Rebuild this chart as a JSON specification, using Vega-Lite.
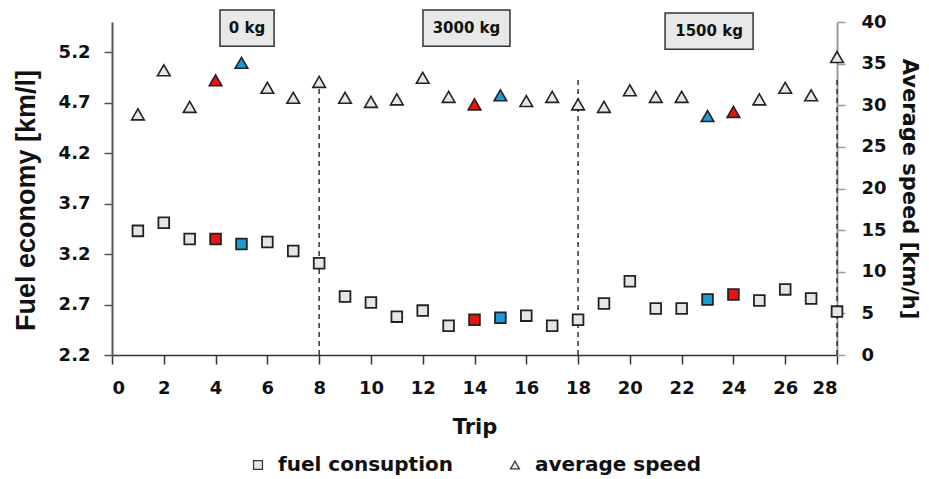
{
  "$schema": "https://vega.github.io/schema/vega-lite/v6.json",
  "width": 725,
  "height": 333,
  "autosize": {"type": "none"},
  "padding": {"left": 112, "top": 22, "right": 92, "bottom": 124},
  "background": "white",
  "config": {
    "view": {"stroke": null},
    "axis": {
      "grid": false,
      "labelFont": "DejaVu Sans",
      "labelFontWeight": "bold",
      "labelFontSize": 18,
      "labelColor": "#111",
      "titleColor": "#111"
    },
    "legend": {
      "orient": "none",
      "legendX": 136,
      "legendY": 433,
      "direction": "horizontal",
      "labelFont": "DejaVu Sans",
      "labelFontSize": 20,
      "labelFontWeight": "bold",
      "labelColor": "#111",
      "labelLimit": 400,
      "symbolSize": 80,
      "symbolStrokeWidth": 1.2,
      "columnPadding": 51,
      "labelOffset": 10
    }
  },
  "datasets": {
    "trips": [
      {"trip": 1, "fuel": 3.43, "speed": 28.9, "hl": "none"},
      {"trip": 2, "fuel": 3.51, "speed": 34.2, "hl": "none"},
      {"trip": 3, "fuel": 3.35, "speed": 29.8, "hl": "none"},
      {"trip": 4, "fuel": 3.35, "speed": 33.0, "hl": "red"},
      {"trip": 5, "fuel": 3.30, "speed": 35.1, "hl": "blue"},
      {"trip": 6, "fuel": 3.32, "speed": 32.1, "hl": "none"},
      {"trip": 7, "fuel": 3.23, "speed": 30.9, "hl": "none"},
      {"trip": 8, "fuel": 3.11, "speed": 32.8, "hl": "none"},
      {"trip": 9, "fuel": 2.78, "speed": 30.9, "hl": "none"},
      {"trip": 10, "fuel": 2.72, "speed": 30.4, "hl": "none"},
      {"trip": 11, "fuel": 2.58, "speed": 30.7, "hl": "none"},
      {"trip": 12, "fuel": 2.64, "speed": 33.3, "hl": "none"},
      {"trip": 13, "fuel": 2.49, "speed": 31.0, "hl": "none"},
      {"trip": 14, "fuel": 2.55, "speed": 30.1, "hl": "red"},
      {"trip": 15, "fuel": 2.57, "speed": 31.2, "hl": "blue"},
      {"trip": 16, "fuel": 2.59, "speed": 30.5, "hl": "none"},
      {"trip": 17, "fuel": 2.49, "speed": 31.0, "hl": "none"},
      {"trip": 18, "fuel": 2.55, "speed": 30.1, "hl": "none"},
      {"trip": 19, "fuel": 2.71, "speed": 29.8, "hl": "none"},
      {"trip": 20, "fuel": 2.93, "speed": 31.8, "hl": "none"},
      {"trip": 21, "fuel": 2.66, "speed": 31.0, "hl": "none"},
      {"trip": 22, "fuel": 2.66, "speed": 31.0, "hl": "none"},
      {"trip": 23, "fuel": 2.75, "speed": 28.7, "hl": "blue"},
      {"trip": 24, "fuel": 2.80, "speed": 29.2, "hl": "red"},
      {"trip": 25, "fuel": 2.74, "speed": 30.7, "hl": "none"},
      {"trip": 26, "fuel": 2.85, "speed": 32.1, "hl": "none"},
      {"trip": 27, "fuel": 2.76, "speed": 31.2, "hl": "none"},
      {"trip": 28, "fuel": 2.63, "speed": 35.8, "hl": "none"}
    ],
    "breaks": [
      {"trip": 8, "low": 2.2, "high": 4.96},
      {"trip": 18, "low": 2.2, "high": 4.96},
      {"trip": 28, "low": 2.2, "high": 4.96}
    ],
    "loads": [
      {"label": "0 kg", "from": 4.17, "to": 6.26, "mid": 5.215, "bottom": 5.26, "top": 5.62, "level": 5.44},
      {"label": "3000 kg", "from": 12.01, "to": 15.37, "mid": 13.69, "bottom": 5.26, "top": 5.62, "level": 5.44},
      {"label": "1500 kg", "from": 21.36, "to": 24.76, "mid": 23.06, "bottom": 5.23, "top": 5.59, "level": 5.41}
    ]
  },
  "layer": [
    {
      "layer": [
        {
          "data": {"name": "breaks"},
          "mark": {"type": "rule", "strokeDash": [5, 4], "strokeWidth": 1.5, "color": "#333"},
          "encoding": {
            "x": {"field": "trip", "type": "quantitative"},
            "y": {"field": "low", "type": "quantitative"},
            "y2": {"field": "high"}
          }
        },
        {
          "data": {"name": "trips"},
          "mark": {"type": "point", "filled": true, "size": 115, "stroke": "#222", "strokeWidth": 1.8, "opacity": 1},
          "encoding": {
            "x": {
              "field": "trip",
              "type": "quantitative",
              "scale": {"domain": [0, 28], "nice": false},
              "axis": {
                "title": "Trip",
                "values": [0, 2, 4, 6, 8, 10, 12, 14, 16, 18, 20, 22, 24, 26, 28],
                "domainColor": "#333",
                "domainWidth": 1.5,
                "tickColor": "#333",
                "tickWidth": 1.5,
                "tickSize": 9,
                "labelPadding": 15,
                "titleFont": "DejaVu Sans",
                "titleFontSize": 21,
                "titleFontWeight": "bold",
                "titlePadding": 19
              }
            },
            "y": {
              "field": "fuel",
              "type": "quantitative",
              "scale": {"domain": [2.2, 5.5], "zero": false, "nice": false},
              "axis": {
                "title": "Fuel economy [km/l]",
                "values": [2.2, 2.7, 3.2, 3.7, 4.2, 4.7, 5.2],
                "format": ".1f",
                "domainColor": "#555",
                "domainWidth": 2,
                "tickColor": "#555",
                "tickWidth": 1.5,
                "tickSize": 8,
                "labelPadding": 14,
                "titleFont": "Liberation Sans",
                "titleFontSize": 27,
                "titleFontWeight": "bold",
                "titlePadding": 18,
                "titleY": 178
              }
            },
            "shape": {
              "datum": "fuel consuption",
              "type": "nominal",
              "scale": {"domain": ["fuel consuption", "average speed"], "range": ["square", "triangle-up"]},
              "legend": {
                "title": null,
                "symbolFillColor": "#e6e6e6",
                "symbolStrokeColor": "#333"
              }
            },
            "fill": {
              "field": "hl",
              "type": "nominal",
              "scale": {"domain": ["none", "red", "blue"], "range": ["#e6e6e6", "#ee1111", "#1a9ad6"]},
              "legend": null
            }
          }
        },
        {
          "data": {"name": "loads"},
          "mark": {"type": "rect", "fill": "#e8e8e8", "stroke": "#333", "strokeWidth": 1.5},
          "encoding": {
            "x": {"field": "from", "type": "quantitative"},
            "x2": {"field": "to"},
            "y": {"field": "bottom", "type": "quantitative"},
            "y2": {"field": "top"}
          }
        },
        {
          "data": {"name": "loads"},
          "mark": {"type": "text", "font": "DejaVu Sans", "fontWeight": "bold", "fontSize": 15, "color": "#111", "align": "center", "baseline": "middle"},
          "encoding": {
            "x": {"field": "mid", "type": "quantitative"},
            "y": {"field": "level", "type": "quantitative"},
            "text": {"field": "label"}
          }
        }
      ]
    },
    {
      "data": {"name": "trips"},
      "mark": {"type": "point", "filled": true, "size": 160, "stroke": "#222", "strokeWidth": 1.6, "opacity": 1},
      "encoding": {
        "x": {"field": "trip", "type": "quantitative"},
        "y": {
          "field": "speed",
          "type": "quantitative",
          "scale": {"domain": [0, 40], "nice": false},
          "axis": {
            "orient": "right",
            "title": "Average speed [km/h]",
            "values": [0, 5, 10, 15, 20, 25, 30, 35, 40],
            "domainColor": "#999",
            "domainWidth": 2,
            "tickColor": "#999",
            "tickWidth": 1.5,
            "tickSize": 8,
            "labelPadding": 16,
            "titleFont": "DejaVu Sans",
            "titleFontSize": 21,
            "titleFontWeight": "bold",
            "titlePadding": 12
          }
        },
        "shape": {"datum": "average speed", "type": "nominal"},
        "fill": {"field": "hl", "type": "nominal", "legend": null}
      }
    }
  ],
  "resolve": {"scale": {"y": "independent"}}
}
